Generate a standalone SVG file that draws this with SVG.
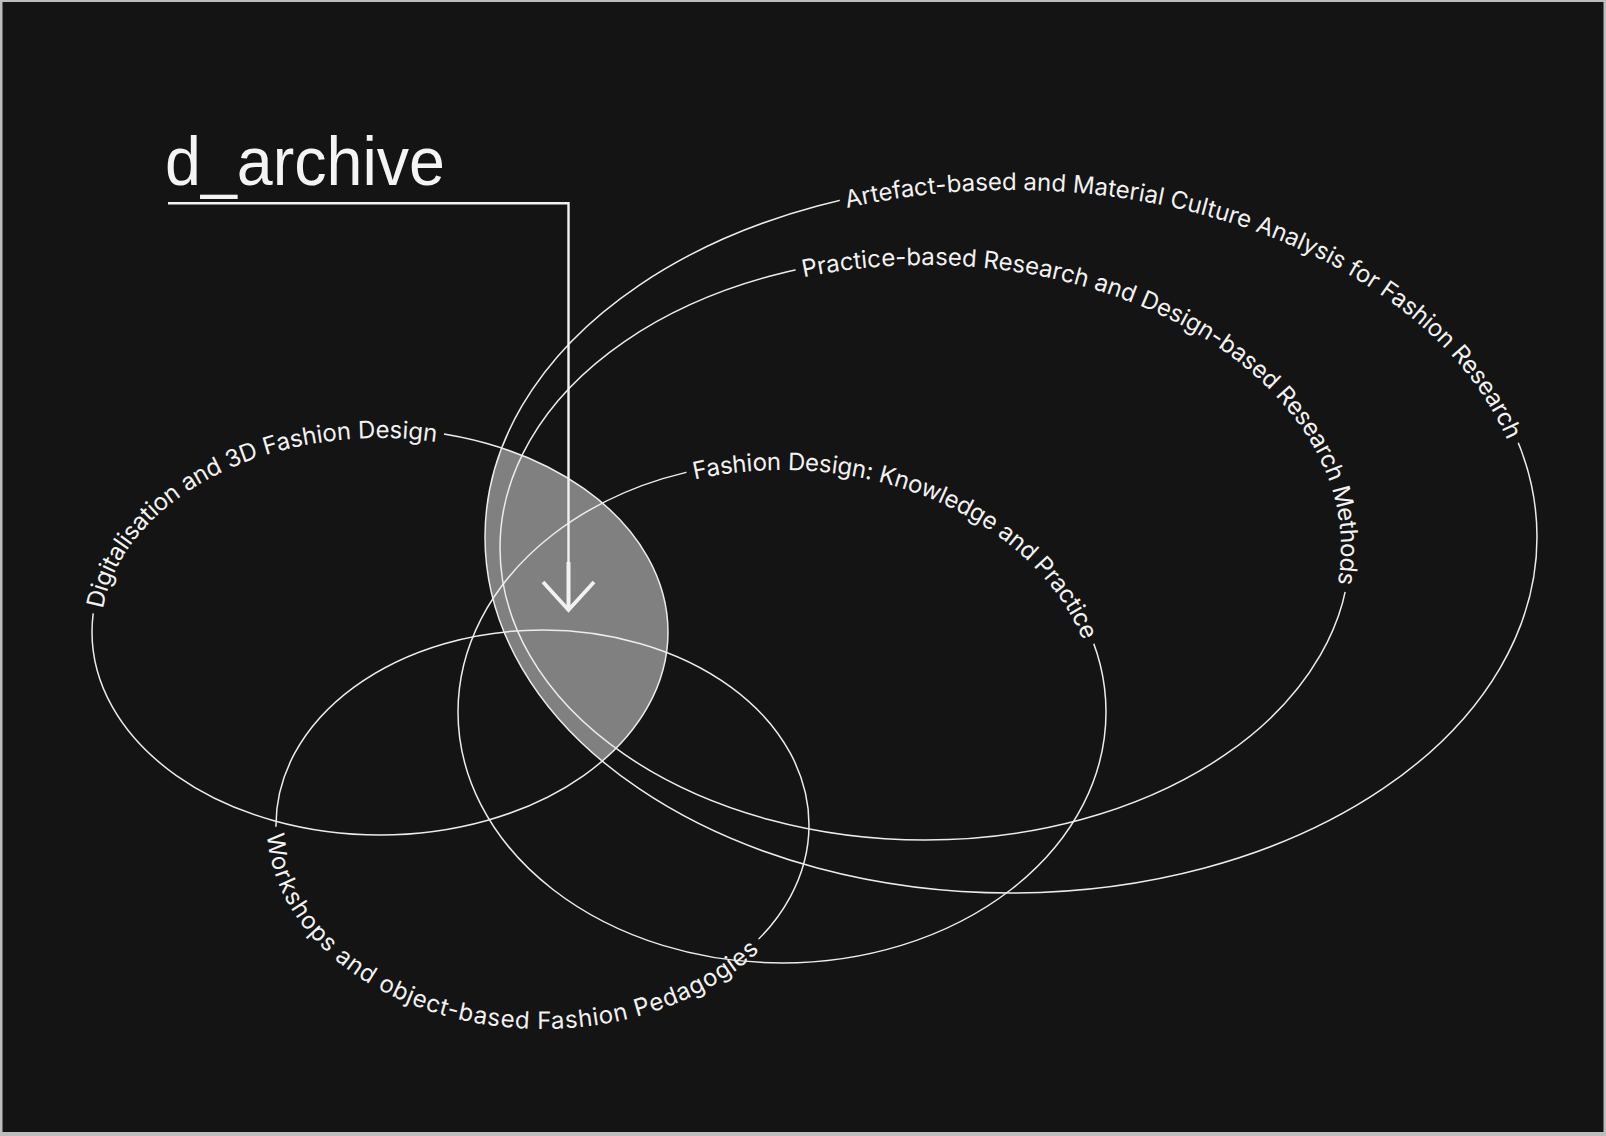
<svg xmlns="http://www.w3.org/2000/svg" xmlns:xlink="http://www.w3.org/1999/xlink" width="1606" height="1136" viewBox="0 0 1606 1136">
  <style>
    .ring { fill: none; stroke: #ececec; stroke-width: 1.5; }
    .labels { fill: #f2f2f2; }
    .lbl { font-family: Inter, "Liberation Sans", Arial, sans-serif; font-size: 24px; dominant-baseline: central; }
    .title { font-family: "Liberation Sans", Arial, sans-serif; font-size: 68px; fill: #f4f4f4; }
    .conn { fill: none; stroke: #f2f2f2; stroke-width: 2.4; }
    .knock { fill: #000; stroke: #000; stroke-width: 17; stroke-linejoin: round; }
  </style>
  <defs>
    <path id="pD" d="M94.2 607 A288 203 0 0 1 380 429 A288 203 0 0 1 668 632 A288 203 0 0 1 380 835"/>
    <path id="pF" d="M693 470.7 A324 251 0 0 1 1106 712 A324 251 0 0 1 782 963"/>
    <path id="pP" d="M802 268.5 A425 292 0 0 1 1350 548 A425 292 0 0 1 925 840"/>
    <path id="pA" d="M845 199.2 A526 356 0 0 1 1537 537 A526 356 0 0 1 1011 893"/>
    <path id="pW" d="M276.2 833 A266.5 195 0 0 0 542.5 1020 A266.5 195 0 0 0 809 825 A266.5 195 0 0 0 542.5 630"/>
    <clipPath id="clipD"><ellipse cx="380" cy="632" rx="288" ry="203"/></clipPath>
    <mask id="mD" maskUnits="userSpaceOnUse" x="0" y="0" width="1606" height="1136"><rect width="1606" height="1136" fill="#fff"/><use href="#tD" class="knock"/></mask>
    <mask id="mF" maskUnits="userSpaceOnUse" x="0" y="0" width="1606" height="1136"><rect width="1606" height="1136" fill="#fff"/><use href="#tF" class="knock"/></mask>
    <mask id="mP" maskUnits="userSpaceOnUse" x="0" y="0" width="1606" height="1136"><rect width="1606" height="1136" fill="#fff"/><use href="#tP" class="knock"/></mask>
    <mask id="mA" maskUnits="userSpaceOnUse" x="0" y="0" width="1606" height="1136"><rect width="1606" height="1136" fill="#fff"/><use href="#tA" class="knock"/></mask>
    <mask id="mW" maskUnits="userSpaceOnUse" x="0" y="0" width="1606" height="1136"><rect width="1606" height="1136" fill="#fff"/><use href="#tW" class="knock"/></mask>
    <marker id="arrow" markerUnits="userSpaceOnUse" markerWidth="80" markerHeight="80" refX="0" refY="0" orient="auto" overflow="visible">
      <path d="M-48 0 H-1" fill="none" stroke="#f2f2f2" stroke-width="4"/>
      <path d="M-28 -25.5 L0 0 L-28 25.5" fill="none" stroke="#f2f2f2" stroke-width="3.8" stroke-linejoin="miter"/>
    </marker>
  </defs>

  <rect width="1606" height="1136" fill="#bdbdbd"/>
  <rect x="2.5" y="2" width="1601" height="1130" fill="#141414"/>

  <g id="overlap">
    <ellipse cx="1011" cy="537" rx="526" ry="356" fill="#808080" clip-path="url(#clipD)"/>
  </g>

  <g class="labels">
    <g id="node-digitalisation">
      <ellipse class="ring" cx="380" cy="632" rx="288" ry="203" mask="url(#mD)"/>
      <text id="tD" class="lbl"><textPath href="#pD" textLength="421" lengthAdjust="spacing">Digitalisation and 3D Fashion Design</textPath></text>
    </g>
    <g id="node-workshops">
      <ellipse class="ring" cx="542.5" cy="825" rx="266.5" ry="195" mask="url(#mW)"/>
      <text id="tW" class="lbl"><textPath href="#pW" textLength="586" lengthAdjust="spacing">Workshops and object-based Fashion Pedagogies</textPath></text>
    </g>
    <g id="node-fashion-design">
      <ellipse class="ring" cx="782" cy="712" rx="324" ry="251" mask="url(#mF)"/>
      <text id="tF" class="lbl"><textPath href="#pF" textLength="466" lengthAdjust="spacing">Fashion Design: Knowledge and Practice</textPath></text>
    </g>
    <g id="node-practice">
      <ellipse class="ring" cx="925" cy="548" rx="425" ry="292" mask="url(#mP)"/>
      <text id="tP" class="lbl"><textPath href="#pP" textLength="729" lengthAdjust="spacing">Practice-based Research and Design-based Research Methods</textPath></text>
    </g>
    <g id="node-artefact">
      <ellipse class="ring" cx="1011" cy="537" rx="526" ry="356" mask="url(#mA)"/>
      <text id="tA" class="lbl"><textPath href="#pA" textLength="763" lengthAdjust="spacing">Artefact-based and Material Culture Analysis for Fashion Research</textPath></text>
    </g>
  </g>

  <g id="connectors">
    <polyline class="conn" points="168,203.3 568.5,203.3 568.5,610" marker-end="url(#arrow)"/>
  </g>

  <g id="node-d-archive">
    <text class="title" x="165" y="185" textLength="280" lengthAdjust="spacingAndGlyphs">d_archive</text>
  </g>
</svg>
